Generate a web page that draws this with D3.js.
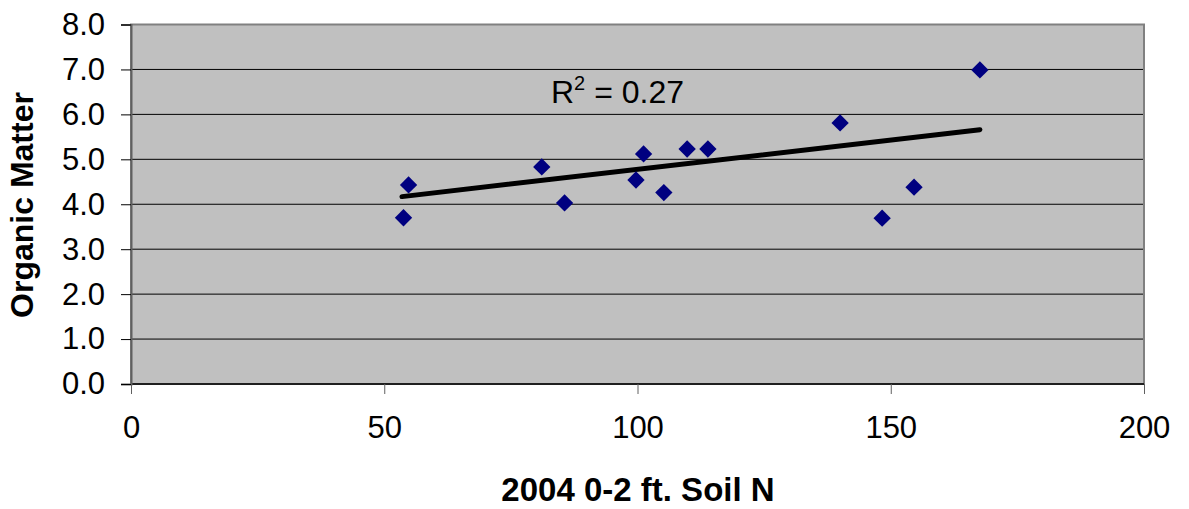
<!DOCTYPE html>
<meta charset="utf-8">
<style>
body { margin: 0; background: #fff; }
text { font-family: "Liberation Sans", Arial, sans-serif; fill: #000; }
.grid line { stroke: #000; stroke-width: 1px; }
</style>
<svg width="1189" height="509"></svg>
<script src="https://d3js.org/d3.v7.min.js"></script>
<script>

// soil N (x) vs organic matter (y)
var soilN = [53.8, 54.8, 81.1, 85.6, 99.7, 101.2, 105.2, 109.8, 113.9, 140.0, 148.3, 154.6, 167.6];
var organic = [3.70, 4.43, 4.83, 4.03, 4.54, 5.12, 4.26, 5.23, 5.23, 5.81, 3.69, 4.38, 6.99];

// trend line end points
var trendX = [53.5, 167.6];
var trendY = [4.17, 5.66];

var xTicks = [0, 50, 100, 150, 200];
var yTicks = [0, 1, 2, 3, 4, 5, 6, 7, 8];

var svg = d3.select("svg"),
    plotLeft = 131, plotRight = 1144, plotTop = 24.5, plotBottom = 384;

var x = d3.scaleLinear().domain([0, 200]).range([plotLeft, plotRight]);
var y = d3.scaleLinear().domain([0, 8]).range([plotBottom, plotTop]);

// plot background
svg.append("rect")
    .attr("x", plotLeft).attr("y", plotTop)
    .attr("width", plotRight - plotLeft).attr("height", plotBottom - plotTop)
    .attr("fill", "#c0c0c0");

// horizontal grid lines
svg.append("g")
    .attr("class", "grid")
  .selectAll("line")
  .data(yTicks.slice(1, -1))
  .enter().append("line")
    .attr("x1", plotLeft).attr("x2", plotRight)
    .attr("y1", function(d) { return y(d); })
    .attr("y2", function(d) { return y(d); });

// plot frame
svg.append("rect")
    .attr("x", plotLeft).attr("y", plotTop)
    .attr("width", plotRight - plotLeft).attr("height", plotBottom - plotTop)
    .attr("fill", "none")
    .attr("stroke", "#808080")
    .attr("stroke-width", 2);

svg.append("line")
    .attr("x1", plotLeft).attr("x2", plotRight)
    .attr("y1", plotBottom).attr("y2", plotBottom)
    .attr("stroke", "#202020").attr("stroke-width", 2);

// y axis
var yAxis = d3.axisLeft(y)
    .tickValues(yTicks)
    .tickSize(10)
    .tickPadding(16)
    .tickFormat(d3.format(".1f"));

svg.append("g")
    .attr("transform", "translate(" + plotLeft + ",0)")
    .call(yAxis)
    .call(function(g) {
      g.select(".domain").attr("stroke", "#606060").attr("stroke-width", 2);
      g.selectAll(".tick line").attr("stroke", "#000");
      g.selectAll(".tick text")
          .attr("font-size", 31)
          .attr("font-family", "Liberation Sans, Arial, sans-serif")
          .attr("fill", "#000");
    });

// x axis
var xAxis = d3.axisBottom(x)
    .tickValues(xTicks)
    .tickSize(10)
    .tickPadding(22);

svg.append("g")
    .attr("transform", "translate(0," + plotBottom + ")")
    .call(xAxis)
    .call(function(g) {
      g.select(".domain").remove();
      g.selectAll(".tick line").attr("stroke", "#606060");
      g.selectAll(".tick text")
          .attr("font-size", 31)
          .attr("font-family", "Liberation Sans, Arial, sans-serif")
          .attr("fill", "#000");
    });

// trend line
svg.append("line")
    .attr("x1", x(trendX[0])).attr("y1", y(trendY[0]))
    .attr("x2", x(trendX[1])).attr("y2", y(trendY[1]))
    .attr("stroke", "#000")
    .attr("stroke-width", 5)
    .attr("stroke-linecap", "round");

// diamond markers
var diamond = d3.symbol().type(d3.symbolSquare).size(150);

svg.append("g")
  .selectAll("path")
  .data(soilN)
  .enter().append("path")
    .attr("d", diamond)
    .attr("fill", "#000080")
    .attr("transform", function(d, i) {
      return "translate(" + x(d) + "," + y(organic[i]) + ") rotate(45)";
    });

// R squared label
var r2 = svg.append("text")
    .attr("x", 551)
    .attr("y", 103)
    .attr("font-size", 32);
r2.append("tspan").text("R");
r2.append("tspan").attr("font-size", 20).attr("dy", -13).text("2");
r2.append("tspan").attr("dy", 13).text(" = 0.27");

// axis titles
svg.append("text")
    .attr("x", 638)
    .attr("y", 501)
    .attr("text-anchor", "middle")
    .attr("font-size", 33)
    .attr("font-weight", "bold")
    .text("2004 0-2 ft. Soil N");

svg.append("text")
    .attr("transform", "translate(33,205) rotate(-90)")
    .attr("text-anchor", "middle")
    .attr("font-size", 32)
    .attr("font-weight", "bold")
    .text("Organic Matter");

</script>
